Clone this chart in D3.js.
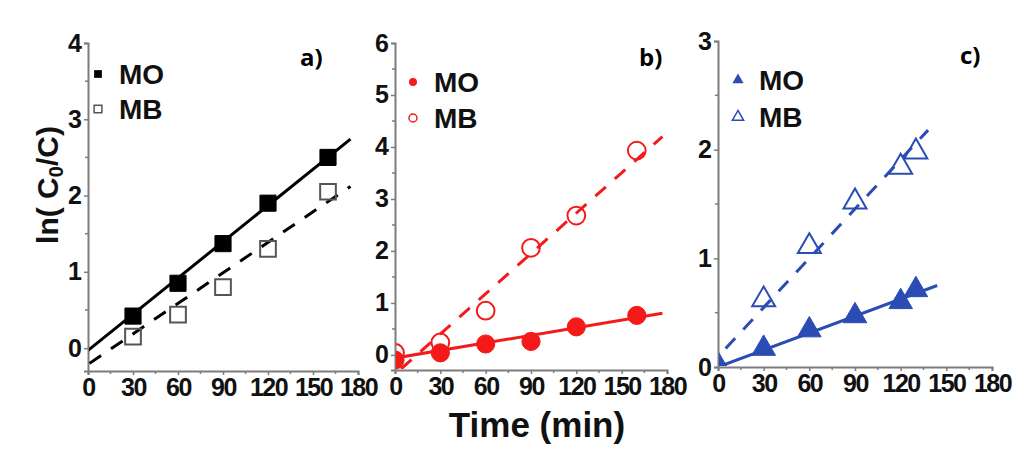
<!DOCTYPE html>
<html><head><meta charset="utf-8">
<script src="https://cdn.jsdelivr.net/npm/d3@7"></script>
<style>html,body{margin:0;padding:0;background:#fff;} svg{display:block;}</style>
</head><body>
<svg id="chart" width="1024" height="458"></svg>
<script>
// ---------- data ----------
const xTicks = [0, 30, 60, 90, 120, 150, 180];
const legendLabels = ["MO", "MB"];
const panelLabels = ["a)", "b)", "c)"];
const yTicksA = [0, 1, 2, 3, 4];
const yTicksB = [0, 1, 2, 3, 4, 5, 6];
const yTicksC = [0, 1, 2, 3];

// panel a (squares)
const timeA = [30, 60, 90, 120, 160];
const moA = [0.42, 0.85, 1.37, 1.9, 2.5];
const mbA = [0.15, 0.44, 0.8, 1.3, 2.05];
const fitMoA = [[0, -0.03], [175, 2.74]];
const fitMbA = [[1, -0.2], [175, 2.12]];

// panel b (circles)
const timeB = [0, 30, 60, 90, 120, 160];
const moB = [-0.1, 0.04, 0.21, 0.26, 0.54, 0.76];
const mbB = [0.04, 0.24, 0.85, 2.06, 2.68, 3.93];
const fitMoB = [[0, -0.06], [177, 0.8]];
const fitMbB = [[4, -0.27], [177, 4.2]];

// panel c (triangles)
const timeC = [0, 30, 60, 90, 120, 130];
const moC = [0.02, 0.17, 0.34, 0.47, 0.6, 0.71];
const timeCmb = [30, 60, 90, 120, 130];
const mbC = [0.62, 1.11, 1.52, 1.84, 1.98];
const fitMoC = [[0, 0], [144, 0.75]];
const fitMbC = [[5, 0.17], [138, 2.18]];

// ---------- drawing ----------
const svg = d3.select("#chart");
const FONT = "Liberation Sans, Arial, sans-serif";

const panels = [
  {label: panelLabels[0], xr: [88, 358], yd: [-0.3, 4], yr: [371, 43], yTicks: yTicksA, yMinor: 0.5,
   color: "#000", openColor: "#555", shape: "square",
   mo: {t: timeA, v: moA}, mb: {t: timeA, v: mbA}, fitMo: fitMoA, fitMb: fitMbA,
   leg: {x: 98, y1: 74, y2: 109}, lab: {x: 300, y: 66}},
  {label: panelLabels[1], xr: [395, 667], yd: [-0.29, 6], yr: [370, 43], yTicks: yTicksB, yMinor: 0.5,
   color: "#f51a1a", openColor: "#f51a1a", shape: "circle",
   mo: {t: timeB, v: moB}, mb: {t: timeB, v: mbB}, fitMo: fitMoB, fitMb: fitMbB,
   leg: {x: 413, y1: 82, y2: 118}, lab: {x: 639, y: 66}},
  {label: panelLabels[2], xr: [718, 992], yd: [0, 3], yr: [367, 41], yTicks: yTicksC, yMinor: 0.5,
   color: "#2a4cb4", openColor: "#2a4cb4", shape: "triangle",
   mo: {t: timeC, v: moC}, mb: {t: timeCmb, v: mbC}, fitMo: fitMoC, fitMb: fitMbC,
   leg: {x: 738, y1: 80, y2: 117}, lab: {x: 960, y: 64}}
];

panels.forEach((p, i) => {
  const x = d3.scaleLinear().domain([0, 180]).range(p.xr);
  const y = d3.scaleLinear().domain(p.yd).range(p.yr);
  const g = svg.append("g");
  const axisColor = "#7d7d7d";

  // x axis
  const xAxis = d3.axisBottom(x).tickValues(xTicks).tickSize(4).tickPadding(3);
  const gx = g.append("g").attr("transform", `translate(0,${p.yr[0]})`).call(xAxis);
  gx.select(".domain").attr("stroke", axisColor).attr("stroke-width", 2);
  gx.selectAll(".tick line").attr("stroke", axisColor).attr("stroke-width", 1.5);
  gx.selectAll(".tick text").attr("fill", "#111").attr("font-family", FONT)
    .attr("font-weight", "bold").attr("font-size", 25).attr("letter-spacing", -1.5);
  // minor x ticks
  g.append("g").selectAll("line").data(d3.range(15, 180, 30)).join("line")
    .attr("x1", d => x(d)).attr("x2", d => x(d))
    .attr("y1", p.yr[0]).attr("y2", p.yr[0] + 3)
    .attr("stroke", axisColor).attr("stroke-width", 1.5);

  // y axis
  const yAxis = d3.axisLeft(y).tickValues(p.yTicks).tickSize(4).tickPadding(2).tickFormat(d3.format("d"));
  const gy = g.append("g").attr("transform", `translate(${p.xr[0]},0)`).call(yAxis);
  gy.select(".domain").attr("stroke", axisColor).attr("stroke-width", 2);
  gy.selectAll(".tick line").attr("stroke", axisColor).attr("stroke-width", 1.5);
  gy.selectAll(".tick text").attr("fill", "#111").attr("font-family", FONT)
    .attr("font-weight", "bold").attr("font-size", 25);
  const minorY = d3.range(p.yTicks[0] + p.yMinor, p.yTicks[p.yTicks.length - 1], 1);
  g.append("g").selectAll("line").data(minorY).join("line")
    .attr("x1", p.xr[0] - 3).attr("x2", p.xr[0])
    .attr("y1", d => y(d)).attr("y2", d => y(d))
    .attr("stroke", axisColor).attr("stroke-width", 1.5);

  // clip
  const cid = "clip" + i;
  svg.append("defs").append("clipPath").attr("id", cid).append("rect")
    .attr("x", p.xr[0] + 1).attr("y", p.yr[1] - 20)
    .attr("width", p.xr[1] - p.xr[0] + 20).attr("height", p.yr[0] - p.yr[1] + 19);
  const plot = g.append("g").attr("clip-path", `url(#${cid})`);

  const line = d3.line().x(d => x(d[0])).y(d => y(d[1]));
  plot.append("path").attr("d", line(p.fitMo)).attr("fill", "none")
    .attr("stroke", p.color).attr("stroke-width", 3);
  plot.append("path").attr("d", line(p.fitMb)).attr("fill", "none")
    .attr("stroke", p.color).attr("stroke-width", 3).attr("stroke-dasharray", "14,12");

  const sym = {square: d3.symbolSquare, circle: d3.symbolCircle, triangle: d3.symbolTriangle}[p.shape];
  const bigSize = {square: 260, circle: 260, triangle: 240}[p.shape];
  const smallSize = {square: 60, circle: 50, triangle: 55}[p.shape];

  // MO filled
  plot.append("g").selectAll("path").data(p.mo.t.map((t, k) => [t, p.mo.v[k]])).join("path")
    .attr("transform", d => `translate(${x(d[0])},${y(d[1])})`)
    .attr("d", d3.symbol().type(sym).size(bigSize))
    .attr("fill", p.color).attr("stroke", p.color).attr("stroke-width", 1);
  // MB open
  plot.append("g").selectAll("path").data(p.mb.t.map((t, k) => [t, p.mb.v[k]])).join("path")
    .attr("transform", d => `translate(${x(d[0])},${y(d[1])})`)
    .attr("d", d3.symbol().type(sym).size(bigSize * 0.95))
    .attr("fill", "none").attr("stroke", p.openColor).attr("stroke-width", 2);

  // legend
  g.append("path").attr("transform", `translate(${p.leg.x},${p.leg.y1})`)
    .attr("d", d3.symbol().type(sym).size(smallSize)).attr("fill", p.color);
  g.append("path").attr("transform", `translate(${p.leg.x},${p.leg.y2})`)
    .attr("d", d3.symbol().type(sym).size(smallSize)).attr("fill", "none")
    .attr("stroke", p.openColor).attr("stroke-width", 1.5);
  [p.leg.y1, p.leg.y2].forEach((yy, k) => {
    g.append("text").attr("x", p.leg.x + 21).attr("y", yy + 10)
      .attr("font-family", FONT).attr("font-weight", "bold").attr("font-size", 28)
      .attr("fill", "#111").text(legendLabels[k]);
  });

  // panel label
  g.append("text").attr("x", p.lab.x).attr("y", p.lab.y)
    .attr("font-family", "Open Sans, sans-serif").attr("font-weight", "bold").attr("font-size", 24)
    .attr("fill", "#000").text(p.label);
});

// axis titles
svg.append("text").attr("x", 537).attr("y", 437).attr("text-anchor", "middle")
  .attr("font-family", FONT).attr("font-weight", "bold").attr("font-size", 35)
  .attr("fill", "#111").text("Time (min)");

const yl = svg.append("text").attr("transform", "translate(58,185) rotate(-90)")
  .attr("text-anchor", "middle").attr("font-family", FONT).attr("font-weight", "bold")
  .attr("font-size", 30).attr("fill", "#111");
yl.append("tspan").text("ln( C");
yl.append("tspan").attr("font-size", 20).attr("dy", 5).text("0");
yl.append("tspan").attr("dy", -5).text("/C)");
</script>
</body></html>
